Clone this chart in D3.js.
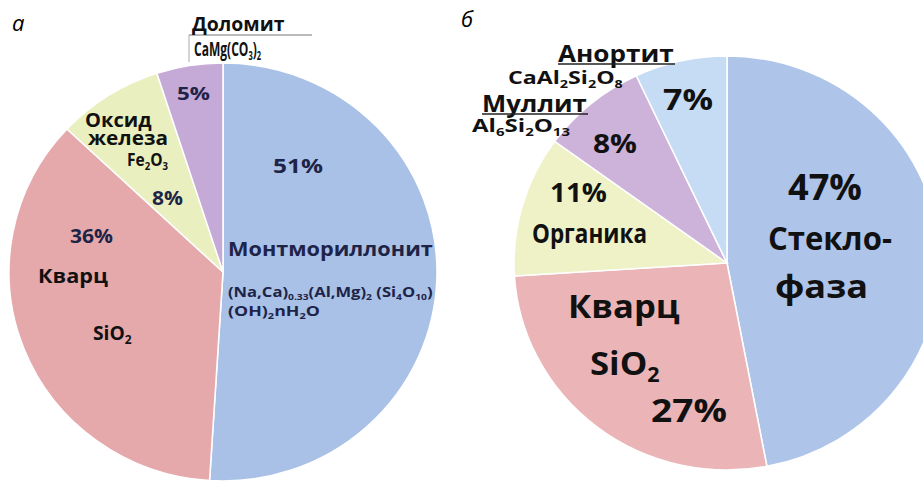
<!DOCTYPE html>
<html>
<head>
<meta charset="utf-8">
<script src="https://cdn.jsdelivr.net/npm/d3@7"></script>
<style>
  body { margin: 0; background: #fff; }
  svg { display: block; }
  text { font-family: "Open Sans", "DejaVu Sans", sans-serif; font-weight: 700; }
</style>
</head>
<body>
<div id="chart"></div>
<script>
// composition, % (panel а: clay, panel б: fired ceramic)
const leftNames = ["Монтмориллонит", "Кварц", "Оксид железа", "Доломит"];
const leftValues = [51, 36, 8, 5];
const rightNames = ["Стекло-фаза", "Кварц", "Органика", "Муллит", "Анортит"];
const rightValues = [47, 27, 11, 8, 7];

const width = 923, height = 483;

const svg = d3.select("#chart")
  .append("svg")
  .attr("width", width)
  .attr("height", height);

// text with _x / _{xx} subscripts, squeezed horizontally to a given width
function label(g, str, x, y, size, w, fill) {
  const t = g.append("text")
    .attr("x", x).attr("y", y)
    .style("font-size", size + "px")
    .style("fill", fill || "#111");
  const re = /_\{([^}]*)\}|_(.)/g;
  let last = 0, m, shifted = false;
  const sub = size * 0.22;
  while ((m = re.exec(str)) !== null) {
    if (m.index > last) {
      t.append("tspan").attr("dy", shifted ? -sub : 0).text(str.slice(last, m.index));
      shifted = false;
    }
    t.append("tspan")
      .attr("dy", shifted ? 0 : sub)
      .style("font-size", (size * 0.62) + "px")
      .text(m[1] || m[2]);
    shifted = true;
    last = re.lastIndex;
  }
  if (last < str.length) {
    t.append("tspan").attr("dy", shifted ? -sub : 0).text(str.slice(last));
  }
  if (w) {
    const bw = t.node().getBBox().width;
    const k = w / bw;
    t.attr("transform", "translate(" + x + ",0) scale(" + k + ",1) translate(" + (-x) + ",0)");
  }
  return t;
}

function drawPie(values, cx, cy, rx, ry, colors) {
  const pie = d3.pie().sort(null).value(d => d);
  const arc = d3.arc().innerRadius(0).outerRadius(ry);
  svg.append("g")
    .attr("transform", "translate(" + cx + "," + cy + ") scale(" + (rx / ry) + ",1)")
    .selectAll("path")
    .data(pie(values))
    .join("path")
    .attr("d", arc)
    .attr("fill", (d, i) => colors[i])
    .attr("stroke", "#fff")
    .attr("stroke-width", 1.5);
}

// ---- panel а
drawPie(leftValues, 223, 272, 214, 209, ["#a9c1e6", "#e5a9ab", "#e9efbe", "#c5a9d6"]);
// ---- panel б
drawPie(rightValues, 727, 263, 213, 207, ["#aec4e9", "#ebb5b8", "#eef2c6", "#cdb2da", "#c6dcf4"]);

const txt = svg.append("g");

// panel letters
txt.append("text").attr("x", 12).attr("y", 31)
  .style("font-size", "22px").style("font-weight", 400).style("font-style", "italic").text("а");
txt.append("text").attr("x", 461).attr("y", 27)
  .style("font-size", "22px").style("font-weight", 400).style("font-style", "italic").text("б");

const navy = "#1e2448";

// left labels
txt.append("line").attr("x1", 189).attr("x2", 312).attr("y1", 35).attr("y2", 35)
  .attr("stroke", "#777").attr("stroke-width", 1);
txt.append("line").attr("x1", 189).attr("x2", 189).attr("y1", 35).attr("y2", 62)
  .attr("stroke", "#aaa").attr("stroke-width", 1);
label(txt, "Доломит", 192, 31, 19, 93);
label(txt, "CaMg(CO_3)_2", 194, 56, 20, 67);
label(txt, leftValues[3] + "%", 177, 100, 18, 33, navy);
label(txt, "Оксид", 85, 127, 19, 67);
label(txt, "железа", 88, 145, 19, 80);
label(txt, "Fe_2O_3", 127, 166, 18, 41);
label(txt, leftValues[2] + "%", 152, 205, 19, 31, navy);
label(txt, leftValues[1] + "%", 70, 243, 19, 43, navy);
label(txt, "Кварц", 38, 283, 19, 70);
label(txt, "SiO_2", 93, 340, 19, 39);
label(txt, leftValues[0] + "%", 273, 173, 19, 50, navy);
label(txt, "Монтмориллонит", 228, 256, 20, 205, navy);
label(txt, "(Na,Ca)_{0.33}(Al,Mg)_2 (Si_4O_{10})", 228, 297, 14, 205, navy);
label(txt, "(OH)_2nH_2O", 228, 316, 14, 92, navy);

// right labels
label(txt, "Анортит", 558, 62, 23, 116);
txt.append("line").attr("x1", 558).attr("x2", 675).attr("y1", 64).attr("y2", 64)
  .attr("stroke", "#222").attr("stroke-width", 1.5);
label(txt, "CaAl_2Si_2O_8", 508, 84, 18, 115);
label(txt, "Муллит", 482, 112, 23, 105);
txt.append("line").attr("x1", 482).attr("x2", 588).attr("y1", 114).attr("y2", 114)
  .attr("stroke", "#222").attr("stroke-width", 1.5);
label(txt, "Al_6Si_2O_{13}", 472, 132, 17, 98);
label(txt, rightValues[4] + "%", 663, 110, 28, 50);
label(txt, rightValues[3] + "%", 593, 153, 26, 44);
label(txt, rightValues[2] + "%", 550, 202, 26, 57);
label(txt, "Органика", 532, 243, 26, 115);
label(txt, rightValues[0] + "%", 788, 200, 36, 74);
label(txt, "Стекло-", 768, 250, 33, 124);
label(txt, "фаза", 775, 298, 33, 93);
label(txt, "Кварц", 568, 318, 33, 112);
label(txt, "SiO_2", 590, 375, 33, 70);
label(txt, rightValues[1] + "%", 651, 422, 33, 76);
</script>
</body>
</html>
